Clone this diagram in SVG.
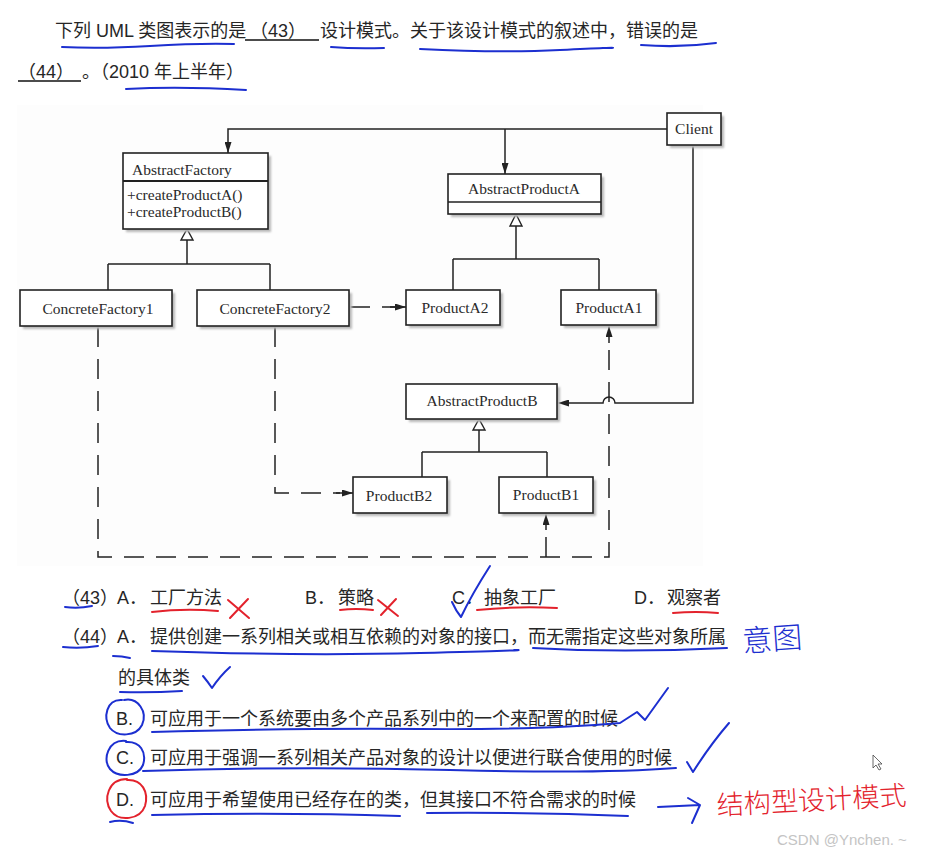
<svg xmlns="http://www.w3.org/2000/svg" width="930" height="855" viewBox="0 0 930 855">
<defs>
<style>
.q{font-family:"Liberation Sans","Noto Sans CJK SC",sans-serif;font-size:18px;fill:#262626}
.d{font-family:"Liberation Serif","DejaVu Serif",serif;font-size:15.5px;fill:#2a2a2a}
.box{fill:#fff;stroke:#222;stroke-width:1.6}
.sh{fill:#b8b8b8;filter:url(#blur)}
.ln{fill:none;stroke:#222;stroke-width:1.5}
.dash{fill:none;stroke:#222;stroke-width:1.5;stroke-dasharray:20 12}
.tri{fill:#fff;stroke:#222;stroke-width:1.4}
.blue{fill:none;stroke:#1c2fd0;stroke-width:2;stroke-linecap:round;stroke-linejoin:round}
.red{fill:none;stroke:#e3222c;stroke-width:2;stroke-linecap:round;stroke-linejoin:round}
.hand{font-family:"Noto Sans CJK SC",sans-serif;font-weight:300}
</style>
<filter id="blur" x="-10%" y="-10%" width="120%" height="120%"><feGaussianBlur stdDeviation="1"/></filter>
<marker id="arr" markerUnits="userSpaceOnUse" markerWidth="11" markerHeight="7" refX="11" refY="3.5" orient="auto"><path d="M0,0 L11,3.5 L0,7 z" fill="#222"/></marker>
</defs>
<rect width="930" height="855" fill="#fff"/>

<!-- question text -->
<g id="question">
<text class="q" x="55" y="37">下列 UML 类图表示的是</text>
<text class="q" x="250" y="37">（43）</text>
<line x1="245" y1="40" x2="319" y2="40" stroke="#111" stroke-width="1.5"/>
<text class="q" x="320" y="37">设计模式。关于该设计模式的叙述中，错误的是</text>
<text class="q" x="18" y="78">（44）</text>
<line x1="18" y1="81" x2="81" y2="81" stroke="#111" stroke-width="1.5"/>
<text class="q" x="82" y="78">。（2010 年上半年）</text>
<path class="blue" d="M62,47 Q100,49 150,46 T234,44"/>
<path class="blue" d="M331,47 Q355,49 384,48"/>
<path class="blue" d="M420,49 Q500,53 560,50 T612,48"/>
<path class="blue" d="M641,45 Q680,48 716,43"/>
<path class="blue" d="M126,89 Q180,86 246,90"/>
</g>

<rect x="17" y="105" width="686" height="461" fill="#fdfdfd"/>

<!-- connectors -->
<g id="connectors">
<path class="ln" d="M667,129 H228 V153" marker-end="url(#arr)"/>
<path class="ln" d="M505,129 V174" marker-end="url(#arr)"/>
<path class="ln" d="M693,146 V403 H615 A6,6 0 0 0 603,403 H558" marker-end="url(#arr)"/>
<path class="ln" d="M187,240 V264 M108,264 H270 M108,264 V290 M270,264 V290"/>
<path class="tri" d="M187,229 L181,240 L193,240 z"/>
<path class="ln" d="M516,226 V259 M453,259 H599 M453,259 V290 M599,259 V290"/>
<path class="tri" d="M516,214 L510,226 L522,226 z"/>
<path class="ln" d="M479,430 V452 M422,452 H547 M422,452 V477 M547,452 V477"/>
<path class="tri" d="M479,419 L473,430 L485,430 z"/>
<path class="dash" d="M350,307 H395"/>
<path class="ln" d="M390,307 H406" marker-end="url(#arr)"/>
<path class="dash" d="M98,327 V557 H609 V340"/>
<path class="ln" d="M609,343 V326" marker-end="url(#arr)"/>
<path class="dash" d="M546,557 V528"/>
<path class="ln" d="M546,530 V514" marker-end="url(#arr)"/>
<path class="dash" d="M275,327 V493 H340"/>
<path class="ln" d="M336,493 H353" marker-end="url(#arr)"/>
</g>

<g id="Client">
<rect class="sh" x="670" y="116" width="54" height="32"/>
<rect class="box" x="667" y="113" width="54" height="32"/>
<text class="d" x="694" y="134" text-anchor="middle">Client</text>
</g>
<g id="AbstractFactory">
<rect class="sh" x="126" y="156" width="145" height="76"/>
<rect class="box" x="123" y="153" width="145" height="76"/>
<line x1="123" y1="181" x2="268" y2="181" stroke="#222" stroke-width="1.8"/>
<text class="d" x="132" y="175">AbstractFactory</text>
<text class="d" x="127" y="200">+createProductA()</text>
<text class="d" x="127" y="217">+createProductB()</text>
</g>
<g id="AbstractProductA">
<rect class="sh" x="451" y="177" width="153" height="40"/>
<rect class="box" x="448" y="174" width="153" height="40"/>
<line x1="448" y1="202" x2="601" y2="202" stroke="#222" stroke-width="1.4"/>
<text class="d" x="524" y="194" text-anchor="middle">AbstractProductA</text>
</g>
<g id="ConcreteFactory1">
<rect class="sh" x="23" y="293" width="152" height="36"/>
<rect class="box" x="20" y="290" width="152" height="36"/>
<text class="d" x="98" y="314" text-anchor="middle">ConcreteFactory1</text>
</g>
<g id="ConcreteFactory2">
<rect class="sh" x="200" y="293" width="152" height="36"/>
<rect class="box" x="197" y="290" width="152" height="36"/>
<text class="d" x="275" y="314" text-anchor="middle">ConcreteFactory2</text>
</g>
<g id="ProductA2">
<rect class="sh" x="409" y="293" width="94" height="35"/>
<rect class="box" x="406" y="290" width="94" height="35"/>
<text class="d" x="455" y="313" text-anchor="middle">ProductA2</text>
</g>
<g id="ProductA1">
<rect class="sh" x="564" y="293" width="95" height="35"/>
<rect class="box" x="561" y="290" width="95" height="35"/>
<text class="d" x="609" y="313" text-anchor="middle">ProductA1</text>
</g>
<g id="AbstractProductB">
<rect class="sh" x="409" y="387" width="151" height="35"/>
<rect class="box" x="406" y="384" width="151" height="35"/>
<text class="d" x="482" y="406" text-anchor="middle">AbstractProductB</text>
</g>
<g id="ProductB2">
<rect class="sh" x="356" y="480" width="94" height="36"/>
<rect class="box" x="353" y="477" width="94" height="36"/>
<text class="d" x="399" y="501" text-anchor="middle">ProductB2</text>
</g>
<g id="ProductB1">
<rect class="sh" x="502" y="480" width="94" height="36"/>
<rect class="box" x="499" y="477" width="94" height="36"/>
<text class="d" x="546" y="500" text-anchor="middle">ProductB1</text>
</g>

<!-- options -->
<g id="options">
<text class="q" x="62" y="604">（43）</text>
<text class="q" x="117" y="604">A．</text>
<text class="q" x="150" y="604">工厂方法</text>
<text class="q" x="305" y="604">B．</text>
<text class="q" x="338" y="604">策略</text>
<text class="q" x="452" y="604">C．</text>
<text class="q" x="484" y="604">抽象工厂</text>
<text class="q" x="634" y="604">D．</text>
<text class="q" x="667" y="604">观察者</text>

<text class="q" x="62" y="643">（44）</text>
<text class="q" x="117" y="643">A．</text>
<text class="q" x="150" y="643">提供创建一系列相关或相互依赖的对象的接口，而无需指定这些对象所属</text>
<text class="q" x="118" y="684">的具体类</text>
<text class="q" x="116" y="725">B.</text>
<text class="q" x="150" y="725">可应用于一个系统要由多个产品系列中的一个来配置的时候</text>
<text class="q" x="116" y="764">C.</text>
<text class="q" x="150" y="764">可应用于强调一系列相关产品对象的设计以便进行联合使用的时候</text>
<text class="q" x="116" y="806">D.</text>
<text class="q" x="150" y="806">可应用于希望使用已经存在的类，但其接口不符合需求的时候</text>
</g>

<!-- annotations -->
<g id="annotations">
<path class="blue" d="M65,607 Q78,609 92,606"/>
<path class="red" d="M152,612 Q185,608 218,611"/>
<path class="red" d="M228,600 L249,618 M248,599 L230,618"/>
<path class="red" d="M340,610 Q356,608 373,610"/>
<path class="red" d="M378,600 L398,616 M396,599 L381,615"/>
<path class="blue" d="M452,602 Q456,611 461,617 Q472,594 490,566"/>
<path class="red" d="M477,610 Q515,606 557,608"/>
<path class="red" d="M673,613 Q696,611 718,613"/>

<path class="blue" d="M63,647 Q80,649 98,646"/>
<path class="blue" d="M113,656 Q122,656 130,658"/>
<path class="blue" d="M152,651 Q300,656 420,653 T514,650"/>
<path class="blue" d="M533,648 Q620,653 727,648"/>
<text class="hand" x="742" y="650" font-size="30" fill="#1c2fd0" transform="rotate(-4 770 635)">意图</text>
<path class="blue" d="M120,692 Q150,693 182,691"/>
<path class="blue" d="M203,676 Q208,682 212,688 Q220,676 230,667"/>

<path class="blue" d="M122,700 C106,699 103,718 110,728 C117,737 136,737 142,725 C148,712 138,697 124,700"/>
<path class="blue" d="M152,732 Q300,728 420,729 T620,723 L637,712 L645,720 L668,688"/>
<path class="blue" d="M126,741 C108,739 102,760 110,769 C118,778 138,777 143,765 C147,752 140,741 126,742"/>
<path class="blue" d="M143,771 Q300,766 450,770 T676,768"/>
<path class="blue" d="M687,762 L693,772 Q710,745 729,723"/>

<path class="red" d="M127,779 C108,779 103,799 111,811 C119,822 140,820 145,806 C149,792 142,779 127,780"/>
<path class="blue" d="M110,822 Q121,819 133,823"/>
<path class="blue" d="M152,815 Q280,812 400,816"/>
<path class="blue" d="M427,813 Q530,812 628,816"/>
<path class="blue" d="M658,807 L700,805 M688,798 L700,805 L692,823"/>
<text class="hand" x="716" y="810" font-size="27" fill="#e3222c" transform="rotate(-3 810 790)" textLength="190" lengthAdjust="spacingAndGlyphs">结构型设计模式</text>
<path d="M873,755 L873,768 L876,765 L879,770 L881,769 L878,764 L882,764 z" fill="#fff" stroke="#444" stroke-width="0.8"/>
</g>

<text x="777" y="845" font-family="Liberation Sans, sans-serif" font-size="15" fill="#c4c4c4">CSDN @Ynchen. ~</text>
</svg>
